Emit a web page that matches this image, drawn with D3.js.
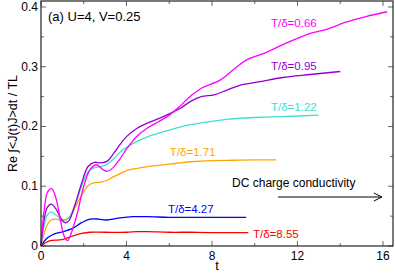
<!DOCTYPE html>
<html lang="en">
<head>
<meta charset="UTF-8">
<title>DC charge conductivity</title>
<script src="https://d3js.org/d3.v7.min.js"></script>
<style>
    body { margin: 0; background: #fff; }
    svg { display: block; font-family: "Liberation Sans", Arial, sans-serif; }
    .tick-label { font-size: 12px; fill: #000; }
</style>
</head>
<body>
<div id="chart"></div>
<script>
    // series: t values and Re ∫<J(t)J>dt / TL values
    const tMagenta = [0, 0.15, 0.3, 0.5, 0.7, 0.9, 1.1, 1.25, 1.45, 1.7, 2.0, 2.3, 2.6, 2.9, 3.1, 3.4, 3.7, 4.0, 4.5, 5, 5.5, 6, 6.5, 7, 7.5, 8.4, 9.0, 9.6, 10.6, 11.5, 12.6, 13.4, 14.3, 15.2, 16.2];
    const vMagenta = [0, 0.06, 0.09, 0.096, 0.08, 0.045, 0.015, 0.009, 0.025, 0.055, 0.1, 0.128, 0.136, 0.128, 0.125, 0.132, 0.146, 0.162, 0.184, 0.198, 0.208, 0.219, 0.234, 0.251, 0.264, 0.278, 0.295, 0.311, 0.325, 0.34, 0.356, 0.363, 0.375, 0.384, 0.392];

    const tViolet = [0, 0.15, 0.3, 0.47, 0.7, 0.9, 1.12, 1.3, 1.6, 1.9, 2.2, 2.5, 2.8, 3.1, 3.4, 3.7, 4.0, 4.5, 5, 5.5, 6, 6.5, 7, 7.5, 8.1, 8.7, 9.3, 10.25, 11.3, 12.6, 14.0];
    const vViolet = [0, 0.045, 0.065, 0.07, 0.062, 0.048, 0.039, 0.042, 0.07, 0.105, 0.133, 0.14, 0.139, 0.142, 0.155, 0.17, 0.183, 0.197, 0.206, 0.213, 0.221, 0.23, 0.242, 0.25, 0.253, 0.261, 0.269, 0.275, 0.282, 0.287, 0.292];

    const tTurq = [0, 0.15, 0.3, 0.47, 0.7, 0.9, 1.12, 1.3, 1.6, 1.9, 2.2, 2.5, 2.8, 3.1, 3.4, 3.7, 4.0, 4.5, 5, 5.5, 6, 6.5, 7, 7.5, 8.7, 10.25, 11.3, 13.0];
    const vTurq = [0, 0.035, 0.052, 0.057, 0.052, 0.046, 0.0435, 0.047, 0.07, 0.1, 0.124, 0.131, 0.133, 0.137, 0.146, 0.157, 0.165, 0.175, 0.183, 0.189, 0.194, 0.199, 0.203, 0.206, 0.212, 0.2155, 0.2165, 0.219];

    const tOrange = [0, 0.15, 0.3, 0.45, 0.7, 0.9, 1.04, 1.3, 1.6, 1.9, 2.2, 2.5, 2.8, 3.1, 3.4, 3.7, 4.0, 4.5, 5, 5.5, 6, 6.5, 7, 8, 9, 10, 11];
    const vOrange = [0, 0.022, 0.036, 0.043, 0.045, 0.043, 0.042, 0.047, 0.065, 0.085, 0.101, 0.106, 0.107, 0.11, 0.116, 0.121, 0.126, 0.13, 0.133, 0.135, 0.137, 0.139, 0.141, 0.143, 0.1435, 0.144, 0.144];

    const tBlue = [0, 0.15, 0.34, 0.6, 1.04, 1.5, 1.9, 2.29, 2.7, 3.07, 3.7, 4.3, 5, 6, 7, 8, 9.6];
    const vBlue = [0, 0.008, 0.0145, 0.02, 0.024, 0.03, 0.039, 0.045, 0.045, 0.0435, 0.047, 0.049, 0.049, 0.048, 0.048, 0.048, 0.048];

    const tRed = [0, 0.2, 0.42, 0.8, 1.04, 1.5, 1.9, 2.29, 3, 4, 4.5, 5, 6, 7, 8, 9.7];
    const vRed = [0, 0.005, 0.009, 0.01, 0.011, 0.017, 0.021, 0.023, 0.023, 0.023, 0.024, 0.024, 0.023, 0.023, 0.0225, 0.0225];

    const seriesNames = ["T/δ=0.66", "T/δ=0.95", "T/δ=1.22", "T/δ=1.71", "T/δ=4.27", "T/δ=8.55"];
    const xTicks = [0, 4, 8, 12, 16];
    const yTicks = [0, 0.1, 0.2, 0.3, 0.4];
    const yTickLabels = ["0", "0.1", "0.2", "0.3", "0.4"];

    const W = 395, H = 274;
    const padL = 41, padR = 393, padT = 1, padB = 246;

    const x = d3.scaleLinear().domain([0, 16.47]).range([padL, padR]);
    const y = d3.scaleLinear().domain([0, 0.41]).range([padB, padT]);

    const svg = d3.select("#chart").append("svg")
        .attr("width", W)
        .attr("height", H);

    const series = [
        {name: seriesNames[0], t: tMagenta, v: vMagenta, color: "#ff00ff", lx: 10.76, ly: 0.3665},
        {name: seriesNames[1], t: tViolet, v: vViolet, color: "#9400d3", lx: 10.76, ly: 0.2946},
        {name: seriesNames[2], t: tTurq, v: vTurq, color: "#40e0d0", lx: 10.76, ly: 0.226},
        {name: seriesNames[3], t: tOrange, v: vOrange, color: "#ffa500", lx: 6.03, ly: 0.1506},
        {name: seriesNames[4], t: tBlue, v: vBlue, color: "#0000ff", lx: 5.94, ly: 0.0552},
        {name: seriesNames[5], t: tRed, v: vRed, color: "#ff0000", lx: 9.92, ly: 0.0134}
    ];

    const line = d3.line()
        .x(d => x(d[0]))
        .y(d => y(d[1]))
        .curve(d3.curveCatmullRom.alpha(0.5));

    // draw in reverse so magenta ends on top
    series.slice().reverse().forEach(s => {
        svg.append("path")
            .attr("d", line(s.t.map((t, i) => [t, s.v[i]])))
            .attr("fill", "none")
            .attr("stroke", s.color)
            .attr("stroke-width", 1.3);
    });

    series.forEach(s => {
        svg.append("text")
            .attr("x", x(s.lx))
            .attr("y", y(s.ly))
            .attr("fill", s.color)
            .style("font-size", "11.5px")
            .text(s.name);
    });

    // ticks, mirrored inside on all four sides
    const tickColor = "#666";
    const xMinor = d3.range(0, 16.5, 2);
    const yMinor = d3.range(0, 0.41, 0.05);

    xMinor.forEach(t => {
        const major = xTicks.includes(t);
        const len = major ? 5 : 3;
        svg.append("line").attr("x1", x(t)).attr("x2", x(t)).attr("y1", padB).attr("y2", padB - len)
            .attr("stroke", tickColor);
        svg.append("line").attr("x1", x(t)).attr("x2", x(t)).attr("y1", padT).attr("y2", padT + len)
            .attr("stroke", tickColor);
    });
    yMinor.forEach((v, i) => {
        const len = i % 2 === 0 ? 5 : 3;
        svg.append("line").attr("x1", padL).attr("x2", padL + len).attr("y1", y(v)).attr("y2", y(v))
            .attr("stroke", tickColor);
        svg.append("line").attr("x1", padR).attr("x2", padR - len).attr("y1", y(v)).attr("y2", y(v))
            .attr("stroke", tickColor);
    });

    // frame
    svg.append("rect")
        .attr("x", padL).attr("y", padT)
        .attr("width", padR - padL).attr("height", padB - padT)
        .attr("fill", "none")
        .attr("stroke", "#222")
        .attr("stroke-width", 1.2);

    // tick labels
    svg.selectAll(".xl").data(xTicks).enter().append("text")
        .attr("class", "tick-label")
        .attr("x", d => x(d))
        .attr("y", padB + 14)
        .attr("text-anchor", "middle")
        .text(d => d);

    svg.selectAll(".yl").data(yTicks).enter().append("text")
        .attr("class", "tick-label")
        .attr("x", padL - 3)
        .attr("y", d => y(d) + 4)
        .attr("text-anchor", "end")
        .text((d, i) => yTickLabels[i]);

    // axis titles
    svg.append("text")
        .attr("x", (padL + padR) / 2)
        .attr("y", 270)
        .attr("text-anchor", "middle")
        .style("font-size", "13px")
        .text("t");

    svg.append("text")
        .attr("transform", `translate(17, ${(padT + padB) / 2}) rotate(-90)`)
        .attr("text-anchor", "middle")
        .style("font-size", "12.5px")
        .text("Re \u222B<J(t)J>dt / TL");

    svg.append("text")
        .attr("x", 48)
        .attr("y", 21)
        .style("font-size", "13px")
        .text("(a)  U=4, V=0.25");

    // DC annotation with arrow
    svg.append("text")
        .attr("x", x(8.94))
        .attr("y", y(0.0987))
        .style("font-size", "12px")
        .text("DC charge conductivity");

    const ay = y(0.082), ax0 = x(11.09), ax1 = x(15.95);
    svg.append("line").attr("x1", ax0).attr("x2", ax1).attr("y1", ay).attr("y2", ay)
        .attr("stroke", "#000").attr("stroke-width", 1);
    svg.append("path")
        .attr("d", `M${ax1 - 8},${ay - 4} L${ax1},${ay} L${ax1 - 8},${ay + 4}`)
        .attr("fill", "none").attr("stroke", "#000").attr("stroke-width", 1);
</script>
</body>
</html>
